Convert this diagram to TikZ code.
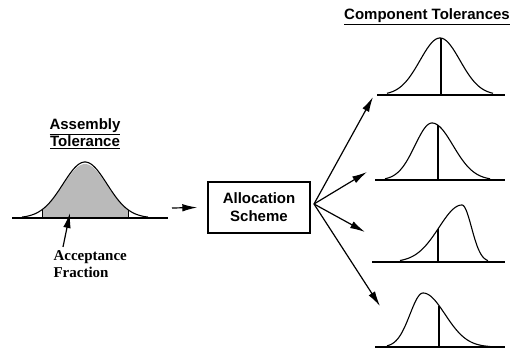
\documentclass[tikz,border=0pt]{standalone}
\usepackage{fontspec}
\setmainfont{Liberation Serif}
\setsansfont{Liberation Sans}
\usetikzlibrary{arrows.meta}

\tikzset{
  curve/.style={line width=1.1pt, line join=round},
  axis/.style={line width=1.4pt},
  arr/.style={line width=1.2pt, -{Latex[length=15pt,width=7.5pt]}},
  heading/.style={font=\sffamily\bfseries\fontsize{15}{17}\selectfont, align=center},
  box/.style={draw, line width=1.4pt, minimum width=102pt, minimum height=51pt,
    font=\sffamily\bfseries\fontsize{15}{18}\selectfont, align=center},
  note/.style={font=\bfseries\fontsize{15}{17}\selectfont, align=left},
}

\begin{document}
\begin{tikzpicture}[x=1pt, y=-1pt]
    \useasboundingbox (0,0) rectangle (517,350);

    % Assembly tolerance
    \fill[black!27] (42,218) -- plot[domain=42:128, samples=50] (\x,{218-54*exp(-0.5*pow((\x-85)/22,2))}) -- (128,218) -- cycle;
    \draw[line width=0.6pt] (42,218) -- (42,{218-56*exp(-0.5*pow(43/22,2))});
    \draw[line width=0.6pt] (128,218) -- (128,{218-56*exp(-0.5*pow(43/22,2))});
    \draw[curve] plot[domain=22:148, samples=70] (\x,{218-56*exp(-0.5*pow((\x-85)/22,2))});
    \draw[axis] (12,218) -- (168,218);
    \node[heading] (asmtitle) at (85,134) {\underline{Assembly}\\\underline{Tolerance}};
    \node[note, anchor=west] (accept) at (50,264) {Acceptance\\Fraction};
    \coordinate (accpt) at (70,213);
    \draw[arr] ([xshift=13pt]accept.north west) -- (accpt);

    % Allocation box
    \node[box] (alloc) at (259,207.5) {Allocation\\Scheme};
    \coordinate (asmout) at (172,208);
    \draw[arr] (asmout) -- ([xshift=-10pt]alloc.west);

    % Component tolerances
    \node[heading] (comptitle) at (427,17) {\underline{Component Tolerances}};

    % curve 1
    \draw[axis] (377,95) -- (505,95);
    \draw[curve] plot[domain=387:493, samples=70] (\x,{95-57*exp(-0.5*pow((\x-440)/20,2))});
    \draw[curve] (441,95) -- (441,38);

    % curve 2
    \draw[axis] (375,180) -- (505,180);
    \draw[curve] plot[domain=385:432, samples=40] (\x,{180-57*exp(-0.5*pow((\x-432)/17,2))})
      -- plot[domain=432:490, samples=50] (\x,{180-57*exp(-0.5*pow((\x-432)/21,2))});
    \draw[curve] (438,180) -- (438,{180-57*exp(-0.5*pow(6/21,2))});

    % curve 3
    \draw[axis] (372,262) -- (505,262);
    \draw[curve] plot[domain=400:462, samples=50] (\x,{262-57*exp(-0.5*pow((\x-462)/23,2))})
      -- plot[domain=462:488, samples=30] (\x,{262-57*exp(-0.5*pow((\x-462)/9.5,2))});
    \draw[curve] (438,262) -- (438,{262-57*exp(-0.5*pow(24/23,2))});

    % curve 4
    \draw[axis] (375,347) -- (505,347);
    \draw[curve] plot[domain=387:423, samples=30] (\x,{347-54*exp(-0.5*pow((\x-423)/13,2))})
      -- plot[domain=423:490, samples=60] (\x,{347-54*exp(-0.5*pow((\x-423)/22,2))});
    \draw[curve] (439,347) -- (439,{347-54*exp(-0.5*pow(16/22,2))});

    % fan of arrows
    \coordinate (fan) at (314,204);
    \coordinate (c1) at (373,97);
    \coordinate (c2) at (367,172);
    \coordinate (c3) at (365,232);
    \coordinate (c4) at (380,306);
    \foreach \c in {c1,c2,c3,c4}
        \draw[arr] (fan) -- (\c);
\end{tikzpicture}
\end{document}
